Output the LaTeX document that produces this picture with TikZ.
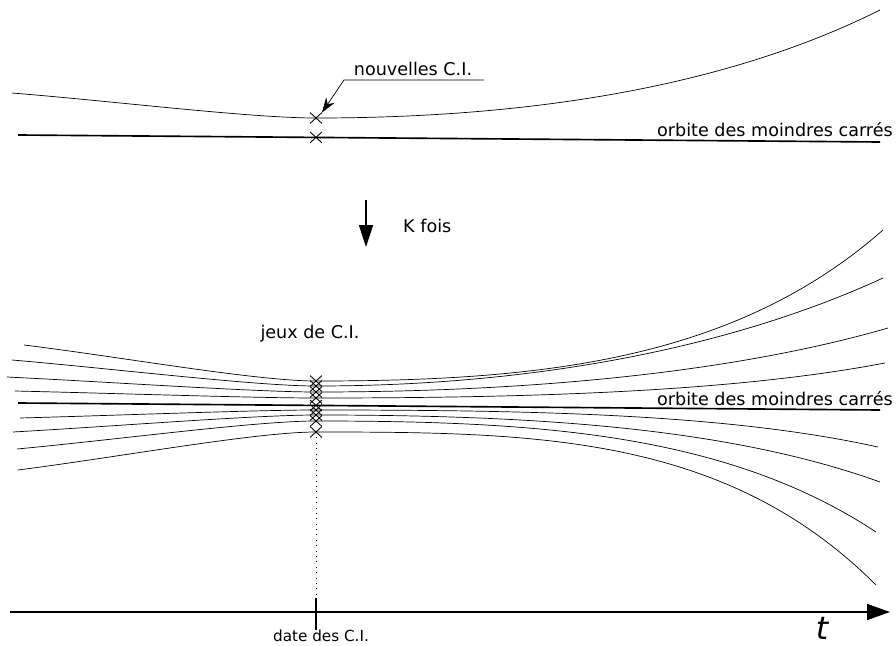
\documentclass[tikz,border=0pt]{standalone}
\usepackage{fontspec}
\setmainfont{DejaVu Sans}
\usetikzlibrary{arrows.meta,shapes.misc}

\tikzset{
  orbite/.style={line width=0.6pt},
  moindres/.style={line width=1.4pt},
  ci/.style={cross out,draw,line width=0.75pt,minimum width=0.33cm,minimum height=0.3cm,inner sep=0pt},
  lbl/.style={font=\fontsize{15}{18}\selectfont,inner sep=0pt},
  petit/.style={font=\fontsize{13}{15}\selectfont,inner sep=0pt},
}

\begin{document}
\begin{tikzpicture}[x=0.03cm,y=-0.03cm]
\useasboundingbox (0,0) rectangle (896,646);

% haut : une orbite et l'orbite des moindres carres
\draw[moindres] (18,135) -- (880,142);
\node[ci] (m0) at (316,137.4) {};
\draw[orbite] (12,93) .. controls (112,101) and (250,118) .. (316,118) .. controls (536,118) and (730,85) .. (880,10);
\node[ci] (c0) at (316,118) {};
\node[lbl,anchor=base east] (orb0) at (893,136) {orbite des moindres carrés};

\node[lbl,anchor=base] (nouv) at (413,76) {nouvelles C.I.};
\coordinate (coude) at (344,80);
\coordinate (trait) at (484,80);
\draw[orbite,-{Stealth[length=0.45cm,width=0.3cm]}] (trait) -- (coude) -- (c0.north east);

% K fois
\coordinate (k0) at (366,200);
\coordinate (k1) at (366,247);
\draw[moindres,-{Triangle[length=0.66cm,width=0.42cm]}] (k0) -- (k1);
\node[lbl,anchor=west] (kfois) at (403,226) {K fois};

% bas : jeux de C.I.
\node[lbl] (jeux) at (310,334) {jeux de C.I.};
\draw[moindres] (18,403) -- (880,410);
\node[ci] (m1) at (316,405.4) {};
\foreach \xl/\yl/\yc/\xr/\yr/\s [count=\i] in {24/345/381/883/230/-0.88, 12/360/386/883/278/-0.46, 7/377/392/888/328/-0.29, 15/391/398/885/363/-0.19, 20/418/410/878/447/0.22, 13/432/415/880/482/0.36, 17/449/421/876/532/0.66, 18/470/432/876/585/1.0}
{
  \draw[orbite] (\xl,\yl) .. controls ({\xl+0.33*(316-\xl)},{\yl+0.33*(\yc-\yl)}) and (256,\yc) .. (316,\yc) .. controls (536,\yc) and ({\xr-150},{\yr-150*\s}) .. (\xr,\yr);
  \node[ci] (x\i) at (316,\yc) {};
}
\node[lbl,anchor=base east] (orb1) at (893,405) {orbite des moindres carrés};

% axe des temps
\coordinate (t0) at (10,612);
\coordinate (t1) at (890,612);
\draw[moindres,-{Triangle[length=0.69cm,width=0.48cm]}] (t0) -- (t1);
\coordinate (date) at (316,612);
\draw[moindres] ([yshift=-15]date) coordinate (haut) -- ([yshift=12]date);
\draw[line width=0.6pt,dash pattern=on 0.6pt off 4pt] (x8.south) -- (haut);
\node[petit,anchor=base] (datelbl) at (321,641) {date des C.I.};
\node[font=\fontsize{27}{30}\selectfont\itshape,inner sep=0pt] (t) at (822,628) {t};
\end{tikzpicture}
\end{document}
